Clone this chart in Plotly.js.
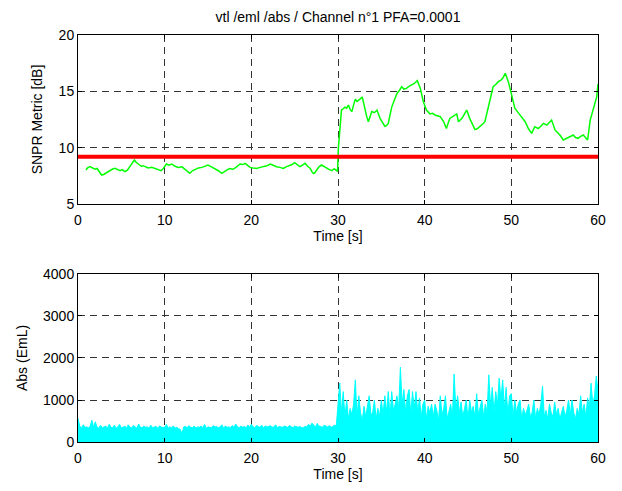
<!DOCTYPE html>
<html>
<head>
<meta charset="utf-8">
<script src="https://cdn.plot.ly/plotly-3.0.1.min.js"></script>
<style>html,body{margin:0;padding:0;background:#fff;}#chart{width:622px;height:491px;}</style>
</head>
<body>
<div id="chart"></div>
<script>
// ---- data ----
const chartTitle = "vtl /eml /abs / Channel n°1 PFA=0.0001";
const xTicks = [0, 10, 20, 30, 40, 50, 60];
const snprTicks = [5, 10, 15, 20];
const absTicks = [0, 1000, 2000, 3000, 4000];

const snprTime = [0.92,1.1,1.38,1.6,1.96,2.2,2.5,2.73,2.95,3.2,3.5,3.8,4.0,4.27,4.5,4.85,5.1,5.42,5.7,6.0,6.25,6.5,6.7,6.96,7.3,7.5,7.73,8.1,8.5,8.9,9.27,9.6,9.85,10.2,10.5,10.8,11.2,11.6,12.0,12.35,12.6,12.9,13.2,13.5,13.9,14.3,14.7,15.0,15.4,15.8,16.2,16.6,16.9,17.2,17.5,17.9,18.3,18.7,19.0,19.3,19.6,19.85,20.2,20.6,21.0,21.4,21.8,22.2,22.6,22.9,23.3,23.7,24.0,24.3,24.7,25.0,25.3,25.6,25.9,26.2,26.5,26.8,27.0,27.15,27.3,27.5,27.8,28.1,28.4,28.7,29.0,29.3,29.5,29.65,29.85,29.95,
  30.04,30.2,30.4,30.6,30.8,31.0,31.2,31.4,31.6,31.8,32.0,32.2,32.4,32.6,32.8,33.1,33.3,33.5,33.7,33.9,34.2,34.5,34.85,35.1,35.4,35.6,35.8,36.0,36.2,36.5,36.8,37.1,37.35,37.6,37.9,38.2,38.5,38.8,39.15,39.5,39.85,40.2,40.6,40.9,41.2,41.5,41.8,42.2,42.5,42.9,43.3,43.7,43.9,44.3,44.6,44.85,45.2,45.5,45.8,46.1,46.4,46.7,46.95,47.35,47.6,47.9,48.2,48.5,48.8,49.0,49.3,49.65,50.0,50.2,50.4,50.7,51.0,51.3,51.6,51.96,52.35,52.7,53.1,53.4,53.7,54.1,54.4,54.65,55.04,55.3,55.6,56.0,56.3,56.6,56.9,57.15,57.4,57.7,58.0,58.3,58.55,58.8,59.1,59.3,59.5,59.7,59.85,60.0];
const snprValue = [8.02,8.2,8.31,8.2,8.08,8.15,7.85,7.57,7.62,7.75,7.87,8.0,8.1,8.16,8.05,7.96,8.05,7.87,8.0,8.31,8.55,8.9,8.7,8.55,8.35,8.4,8.31,8.2,8.25,8.15,8.08,7.95,8.16,8.55,8.45,8.55,8.35,8.25,8.3,8.08,7.9,7.72,7.95,8.08,8.2,8.25,8.35,8.46,8.3,8.16,7.95,7.72,7.9,8.02,8.15,8.08,8.3,8.55,8.5,8.61,8.4,8.25,8.2,8.16,8.25,8.31,8.4,8.55,8.4,8.31,8.25,8.16,8.3,8.37,8.5,8.67,8.45,8.31,8.45,8.61,8.35,8.16,7.85,7.72,7.75,8.02,8.3,8.46,8.3,8.16,8.05,7.96,8.1,8.08,7.96,7.9,
  9.94,11.86,13.34,13.45,13.6,13.5,13.78,13.4,13.2,13.8,14.3,14.1,14.2,14.35,14.5,13.34,12.8,12.3,12.7,13.2,13.1,13.34,12.6,12.3,11.9,11.95,12.16,12.9,13.6,14.2,14.8,15.1,15.41,15.2,15.26,15.45,15.56,15.7,15.95,15.26,14.08,13.34,13.0,13.05,12.9,12.85,12.75,12.3,11.7,12.6,12.8,13.0,12.3,12.6,13.0,13.34,12.6,12.1,11.6,11.7,11.86,12.1,12.3,13.6,14.6,15.41,15.6,15.86,16.0,16.15,16.6,15.86,14.8,14.1,13.5,13.2,12.9,12.6,12.3,11.7,11.27,11.86,11.7,11.9,12.16,12.0,12.3,12.45,11.57,11.4,11.12,10.68,10.8,10.97,11.05,11.12,10.9,10.83,11.0,11.12,10.9,10.68,12.45,13.0,13.6,14.0,14.5,15.65];

const thresholdTime = [0, 60];
const thresholdValue = [9.2, 9.2];

const absTime0 = 0, absStep = 0.2;
const absValue = [
  560,380,330,410,350,360,340,370,520,360,
  480,350,330,400,340,360,380,330,420,350,
  340,400,330,360,420,340,350,380,330,410,
  350,340,390,360,330,430,350,340,380,350,
  360,330,400,340,350,370,330,380,360,340,
  350,420,330,360,340,380,330,350,320,300,
  200,360,370,340,390,350,340,380,330,360,
  350,380,340,420,330,360,350,340,390,360,
  370,340,360,410,330,380,350,360,340,390,
  350,430,360,340,380,350,370,340,400,360,
  420,360,340,390,370,350,400,340,380,360,
  370,390,350,360,410,340,370,360,350,380,
  360,350,390,370,340,380,360,350,370,340,
  340,370,360,420,380,450,400,360,440,380,
  370,350,400,380,360,390,350,370,400,380,
  900,1400,700,1200,600, 1000,550,800,650,900,
  1480,600,1100,700,500, 850,600,900,1100,650,
  700,1000,550,800,600, 1000,650,1100,700,1200,
  600,1200,750,900,1100, 800,1780,900,1250,700,
  1100,1250,650,1200,800, 1200,700,1050,600,900,
  1000,550,850,700,900, 600,900,750,500,1100,
  650,800,1100,550,700, 900,600,1620,750,1100,
  700,950,600,800,1000, 550,1000,700,850,600,
  1150,650,800,1000,600, 900,700,1600,850,1300,
  700,1200,900,1520,1000, 1480,800,1300,650,1100,
  1150,600,1000,700,900, 1000,550,800,650,750,
  900,600,700,1000,550, 800,650,900,1330,600,
  750,550,900,700,600, 950,650,800,550,700,
  850,600,750,1000,650, 1000,700,550,800,650,
  1100,700,900,600,1050, 800,1400,900,1100,1570,
  1200];
const absTime = absValue.map((_, i) => +(absTime0 + i * absStep).toFixed(2));

// ---- styling ----
const font = {family: "Liberation Sans, Arial, Helvetica, sans-serif", size: 14, color: "#000"};
const gridStyle = {showgrid: true, gridcolor: "#333", griddash: "7px,5px", gridwidth: 1,
  showline: true, linecolor: "#000", linewidth: 1, mirror: "ticks", ticks: "inside", ticklen: 4,
  tickcolor: "#000", zeroline: false, tickfont: font};

const traces = [
  {x: snprTime, y: snprValue, xaxis: "x", yaxis: "y", type: "scatter", mode: "lines",
   line: {color: "#00ff00", width: 1.5}, hoverinfo: "skip"},
  {x: thresholdTime, y: thresholdValue, xaxis: "x", yaxis: "y", type: "scatter", mode: "lines",
   line: {color: "#ff0000", width: 4}, hoverinfo: "skip"},
  {x: absTime, y: absValue, xaxis: "x2", yaxis: "y2", type: "scatter", mode: "lines",
   fill: "tozeroy", fillcolor: "#00ffff", line: {color: "#00ffff", width: 1}, hoverinfo: "skip"}
];

const layout = {
  width: 622, height: 491, showlegend: false,
  paper_bgcolor: "#fff", plot_bgcolor: "#fff", font: font,
  margin: {l: 78, r: 24, t: 35, b: 49},
  title: {text: chartTitle, font: {family: font.family, size: 14, color: "#000"},
          x: 0.5, xref: "paper", y: 1 - 17 / 491, yref: "container", yanchor: "middle"},
  xaxis: Object.assign({}, gridStyle, {domain: [0, 1], anchor: "y", range: [0, 60], tickvals: xTicks,
    ticklabelstandoff: 3, title: {text: "Time [s]", font: font, standoff: 4}}),
  yaxis: Object.assign({}, gridStyle, {domain: [0.5848, 1], anchor: "x", range: [5, 20], tickvals: snprTicks,
    title: {text: "SNPR Metric [dB]", font: font, standoff: 12}}),
  xaxis2: Object.assign({}, gridStyle, {domain: [0, 1], anchor: "y2", range: [0, 60], tickvals: xTicks,
    ticklabelstandoff: 3, title: {text: "Time [s]", font: font, standoff: 4}}),
  yaxis2: Object.assign({}, gridStyle, {domain: [0, 0.4128], anchor: "x2", range: [0, 4000], tickvals: absTicks,
    title: {text: "Abs (EmL)", font: font, standoff: 12}})
};

Plotly.newPlot("chart", traces, layout, {staticPlot: true, displayModeBar: false});
</script>
</body>
</html>
